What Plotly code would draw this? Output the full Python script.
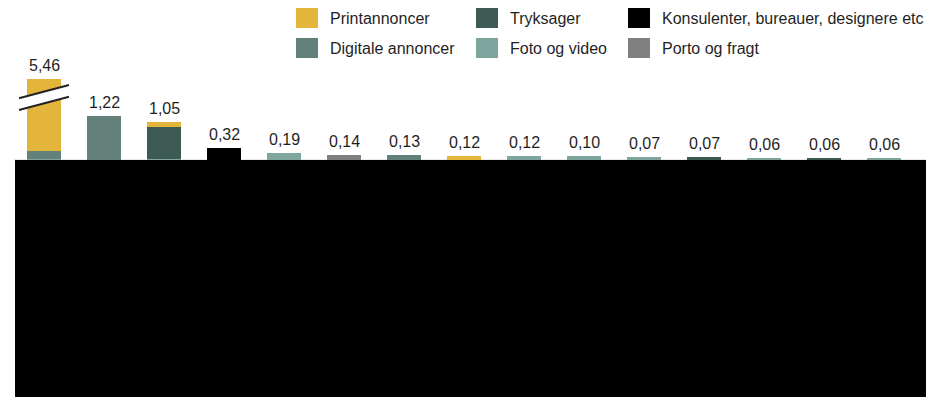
import plotly.graph_objects as go

# Fifteen positions, left to right
categories = [f"P{i}" for i in range(1, 16)]

# Values per cost type (mio. kr.)
foto_video = [0.03, 0, 0.04, 0, 0.19, 0, 0, 0, 0.12, 0.10, 0.07, 0, 0.06, 0, 0.06]
digitale = [0.22, 1.22, 0, 0, 0, 0, 0.13, 0, 0, 0, 0, 0, 0, 0, 0]
tryksager = [0, 0, 0.86, 0, 0, 0, 0, 0, 0, 0, 0, 0.07, 0, 0.06, 0]
konsulenter = [0, 0, 0, 0.32, 0, 0, 0, 0, 0, 0, 0, 0, 0, 0, 0]
porto = [0, 0, 0, 0, 0, 0.14, 0, 0, 0, 0, 0, 0, 0, 0, 0]
print_ann = [5.21, 0, 0.15, 0, 0, 0, 0, 0.12, 0, 0, 0, 0, 0, 0, 0]

series = [
    ("Foto og video", foto_video, "#7FA69E"),
    ("Digitale annoncer", digitale, "#64807A"),
    ("Tryksager", tryksager, "#3D5A54"),
    ("Konsulenter, bureauer, designere etc", konsulenter, "#000000"),
    ("Porto og fragt", porto, "#808080"),
    ("Printannoncer", print_ann, "#E3B53B"),
]

W, H = 926, 397
ML, MR, MT, MB = 14, 12, 79, 237
PW = W - ML - MR
PH = H - MT - MB
Y_TOP = 2.225  # visible top of the (broken) value axis

FONT = "Liberation Sans, Arial, sans-serif"
TXT = "#1f1f1f"


def px_x(px):
    return (px - ML) / PW


def px_y(py):
    return (H - MB - py) / PH


fig = go.Figure()
for name, vals, color in series:
    fig.add_trace(go.Bar(
        x=categories, y=vals, name=name,
        marker=dict(color=color, line=dict(width=0)),
        width=0.567, showlegend=False,
    ))

totals = [round(sum(s[1][i] for s in series), 2) for i in range(len(categories))]

annotations = []
for i, t in enumerate(totals):
    annotations.append(dict(
        x=i, y=min(t, Y_TOP), xref="x", yref="y",
        text=f"{t:.2f}".replace(".", ","), showarrow=False,
        yanchor="bottom", yshift=3,
        font=dict(family=FONT, size=16, color=TXT),
    ))

shapes = []
# baseline
shapes.append(dict(type="line", xref="paper", yref="y", x0=0, x1=1.02, y0=0, y1=0,
                   line=dict(color="#d0d0d0", width=1), layer="below"))
# dark band below the chart
shapes.append(dict(type="rect", xref="paper", yref="paper",
                   x0=px_x(15), x1=px_x(W + 2), y0=px_y(H + 2), y1=px_y(160),
                   fillcolor="#000000", line=dict(width=0)))

# axis-break marks across the first bar
bx0, bx1 = -0.417, 0.417
l1 = (1.695, 2.06)
l2 = (1.374, 1.739)
shapes.append(dict(type="path", xref="x", yref="y",
                   path=f"M {bx0},{l2[0]} L {bx1},{l2[1]} L {bx1},{l1[1]} L {bx0},{l1[0]} Z",
                   fillcolor="white", line=dict(width=0)))
for a, b in (l1, l2):
    shapes.append(dict(type="line", xref="x", yref="y", x0=bx0, x1=bx1, y0=a, y1=b,
                       line=dict(color="#222222", width=2)))

# legend: two rows of three
legend_items = [
    ("Printannoncer", "#E3B53B", 296, 18),
    ("Tryksager", "#3D5A54", 476, 18),
    ("Konsulenter, bureauer, designere etc", "#000000", 628, 18),
    ("Digitale annoncer", "#64807A", 296, 48),
    ("Foto og video", "#7FA69E", 476, 48),
    ("Porto og fragt", "#808080", 628, 48),
]
for label, color, sx, cy in legend_items:
    shapes.append(dict(type="rect", xref="paper", yref="paper",
                       x0=px_x(sx), x1=px_x(sx + 22), y0=px_y(cy + 10), y1=px_y(cy - 10),
                       fillcolor=color, line=dict(width=0)))
    annotations.append(dict(x=px_x(sx + 32), y=px_y(cy), xref="paper", yref="paper",
                            text=label, showarrow=False, xanchor="left", yanchor="middle",
                            font=dict(family=FONT, size=16, color=TXT)))

fig.update_layout(
    width=W, height=H, autosize=False,
    margin=dict(l=ML, r=MR, t=MT, b=MB, pad=0),
    barmode="stack", bargap=0.433,
    plot_bgcolor="white", paper_bgcolor="white",
    xaxis=dict(type="category", range=[-0.5, 14.5], showticklabels=False, showgrid=False,
               zeroline=False, showline=False, ticks=""),
    yaxis=dict(range=[0, Y_TOP], showticklabels=False, showgrid=False,
               zeroline=False, showline=False, ticks=""),
    shapes=shapes, annotations=annotations,
    font=dict(family=FONT, color=TXT),
)

fig.write_html("out.html")
